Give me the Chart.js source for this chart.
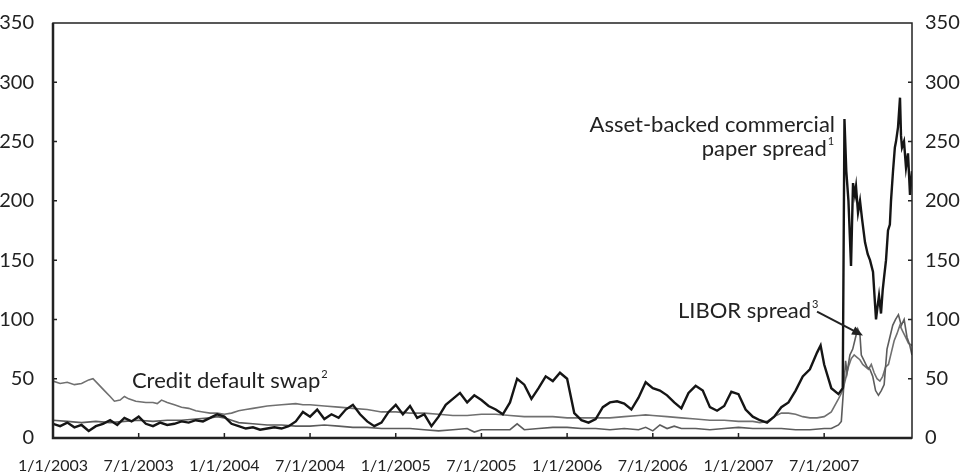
<!DOCTYPE html>
<html>
<head>
<meta charset="utf-8">
<script src="https://cdn.jsdelivr.net/npm/chart.js@4"></script>
<style>
  body { margin: 0; background: #fff; }
  canvas { display: block; }
</style>
</head>
<body>
<canvas id="spreadChart" width="962" height="475"></canvas>
<script>
// x values are months since 1/1/2003
const tickMonths = [0, 6, 12, 18, 24, 30, 36, 42, 48, 54];
const tickLabels = ['1/1/2003', '7/1/2003', '1/1/2004', '7/1/2004', '1/1/2005',
                    '7/1/2005', '1/1/2006', '7/1/2006', '1/1/2007', '7/1/2007'];

// Asset-backed commercial paper spread
const abcpMonths = [
    0, 0.5, 1, 1.5, 2, 2.5, 3, 3.5, 4, 4.5, 5, 5.5, 6, 6.5, 7, 7.5, 8, 8.5, 9, 9.5, 10, 10.5, 11, 11.5,
    12, 12.5, 13, 13.5, 14, 14.5, 15, 15.5, 16, 16.5, 17, 17.5, 18, 18.5, 19, 19.5, 20, 20.5, 21, 21.5, 22, 22.5, 23, 23.5,
    24, 24.5, 25, 25.5, 26, 26.5, 27, 27.5, 28, 28.5, 29, 29.5, 30, 30.5, 31, 31.5, 32, 32.5, 33, 33.5, 34, 34.5, 35, 35.5,
    36, 36.5, 37, 37.5, 38, 38.5, 39, 39.5, 40, 40.5, 41, 41.5, 42, 42.5, 43, 43.5, 44, 44.5, 45, 45.5, 46, 46.5, 47, 47.5,
    48, 48.5, 49, 49.5, 50, 50.5, 51, 51.5, 52, 52.5, 53, 53.5, 53.75, 54, 54.5, 55, 55.3,
    55.42, 55.55, 55.7, 55.88, 56.02, 56.15, 56.23, 56.37, 56.51, 56.65,
    56.86, 57.05, 57.21, 57.42, 57.55, 57.63, 57.75, 57.84, 57.98, 58.1,
    58.19, 58.33, 58.47, 58.6, 58.68, 58.82, 58.95, 59.03, 59.17, 59.31,
    59.38, 59.45, 59.59, 59.73, 59.87, 60.01, 60.15
];
const abcpValues = [
    12, 10, 13, 9, 11, 6, 10, 12, 15, 11, 17, 14, 18, 12, 10, 13, 11, 12, 14, 13, 15, 14, 17, 20,
    18, 12, 10, 8, 9, 7, 8, 9, 8, 10, 14, 22, 18, 24, 16, 20, 17, 24, 28, 20, 14, 10, 13, 22,
    28, 20, 27, 17, 20, 10, 18, 28, 33, 38, 30, 36, 32, 27, 24, 20, 30, 50, 45, 33, 42, 52, 48, 55,
    50, 21, 15, 13, 16, 26, 30, 31, 29, 24, 34, 47, 42, 40, 36, 30, 25, 38, 44, 40, 26, 23, 27, 39,
    37, 24, 18, 15, 13, 18, 26, 30, 40, 52, 58, 72, 78, 62, 42, 37, 42,
    269, 225, 200, 145, 215, 205, 212, 190, 200, 185,
    165, 155, 150, 140, 115, 100, 112, 120, 105, 125,
    135, 150, 175, 180, 200, 225, 245, 250, 262, 287,
    255, 245, 250, 228, 240, 205, 225
];

// Credit default swap
const cdsMonths = [
    0, 0.5, 1, 1.5, 2, 2.5, 2.8, 3.2, 3.6, 4, 4.3, 4.7, 5, 5.3, 5.8, 6.5, 7, 7.3, 7.6, 8,
    8.5, 9, 9.5, 10, 10.5, 11, 11.5, 12, 12.5, 13, 13.5, 14, 15, 16, 17, 17.5, 18, 19, 20, 21,
    22, 23, 24, 25, 26, 27, 28, 29, 30, 31, 32, 33, 34, 35, 36, 37, 38, 39, 40, 41,
    41.5, 42, 43, 44, 45, 46, 47, 48, 49, 49.5, 50, 50.5, 51, 51.5, 52, 52.5, 53, 53.5, 54, 54.5,
    55, 55.3, 55.5, 55.7, 55.9, 56.1, 56.3, 56.5, 56.7, 56.9, 57.1, 57.3, 57.5, 57.7, 57.9, 58.1, 58.3, 58.5, 58.7, 58.9,
    59.1, 59.3, 59.5, 59.7, 59.9, 60.15
];
const cdsValues = [
    48, 46, 47, 45, 46, 49, 50, 45, 40, 35, 31, 32, 35, 33, 31, 30, 30, 29, 32, 30,
    28, 26, 25, 23, 22, 21, 21, 20, 21, 23, 24, 25, 27, 28, 29, 28, 28, 27, 26, 25,
    24, 22, 22, 21, 21, 20, 19, 19, 20, 20, 19, 18, 18, 18, 17, 17, 17, 17, 18, 19,
    19.5, 19, 18, 17, 16, 15, 15, 14, 14, 13, 14, 18, 21, 21, 20, 18, 17, 17, 18, 22,
    33, 40, 50, 60, 67, 70, 68, 66, 62, 60, 58, 62, 55, 50, 48, 52, 60, 62, 72, 82,
    88, 95, 90, 85, 80, 78
];

// LIBOR spread
const liborMonths = [
    0, 1, 2, 3, 4, 5, 6, 7, 8, 9, 10, 11, 11.5, 12, 12.5, 13, 14, 15, 16, 17,
    18, 19, 20, 21, 22, 23, 24, 25, 26, 27, 28, 29, 29.5, 30, 31, 32, 32.5, 33, 34, 35,
    36, 37, 38, 39, 40, 41, 41.5, 42, 42.5, 43, 43.5, 44, 45, 46, 47, 48, 49, 50, 51, 52,
    53, 54, 54.5, 55, 55.2, 55.35, 55.5, 55.6, 55.8, 56, 56.2, 56.35, 56.5, 56.6, 56.8, 57, 57.2, 57.4, 57.6, 57.8,
    58, 58.2, 58.4, 58.6, 58.8, 59, 59.2, 59.4, 59.6, 59.8, 60, 60.15
];
const liborValues = [
    15, 14, 13, 14, 13, 14, 15, 14, 15, 15, 16, 17, 18, 17, 15, 13, 12, 11, 11, 10,
    10, 11, 10, 9, 9, 8, 8, 8, 7, 6, 7, 8, 5, 7, 7, 7, 12, 7, 8, 9,
    9, 8, 8, 7, 8, 7, 9, 6, 11, 8, 10, 8, 8, 7, 8, 9, 8, 8, 8, 7,
    7, 8, 8, 11, 14, 40, 65, 55, 70, 75, 85, 92, 88, 70, 65, 60, 58, 52, 40, 36,
    40, 45, 75, 85, 95, 100, 104, 95, 100, 85, 78, 70
];

const toPoints = (xs, ys) => xs.map((m, i) => ({ x: m, y: ys[i] }));
const FONT = 'Lato, "Open Sans", sans-serif';

const frame = {
    id: 'frame',
    afterDraw(chart) {
        const { ctx, chartArea: a, scales: { x, y } } = chart;
        ctx.save();
        ctx.strokeStyle = '#222';
        ctx.lineWidth = 1.5;
        ctx.strokeRect(a.left, a.top, a.right - a.left, a.bottom - a.top);
        ctx.lineWidth = 2.5;
        ctx.beginPath();
        ctx.moveTo(a.left, a.top);
        ctx.lineTo(a.left, a.bottom);
        ctx.lineTo(a.right, a.bottom);
        ctx.stroke();
        // short inner ticks
        ctx.lineWidth = 1.5;
        ctx.beginPath();
        tickMonths.slice(1).forEach(m => {
            const px = x.getPixelForValue(m);
            ctx.moveTo(px, a.bottom);
            ctx.lineTo(px, a.bottom - 5);
        });
        [50, 100, 150, 200, 250, 300].forEach(v => {
            const py = y.getPixelForValue(v);
            ctx.moveTo(a.left, py);
            ctx.lineTo(a.left + 4, py);
            ctx.moveTo(a.right, py);
            ctx.lineTo(a.right - 4, py);
        });
        ctx.stroke();
        ctx.restore();
    }
};

function drawLabel(ctx, text, sup, px, py, align) {
    ctx.font = '22px ' + FONT;
    const w = ctx.measureText(text).width;
    ctx.font = '11px ' + FONT;
    const sw = sup ? ctx.measureText(sup).width + 1 : 0;
    const left = align === 'right' ? px - w - sw : px;
    ctx.textAlign = 'left';
    ctx.textBaseline = 'middle';
    ctx.font = '22px ' + FONT;
    ctx.fillText(text, left, py);
    if (sup) {
        ctx.font = '11px ' + FONT;
        ctx.fillText(sup, left + w + 1, py - 7);
    }
}

const annotations = {
    id: 'annotations',
    afterDatasetsDraw(chart) {
        const { ctx, scales: { x, y } } = chart;
        ctx.save();
        ctx.fillStyle = '#222';
        drawLabel(ctx, 'Asset-backed commercial', '', x.getPixelForValue(54.76), y.getPixelForValue(264), 'right');
        drawLabel(ctx, 'paper spread', '1', x.getPixelForValue(54.7), y.getPixelForValue(244), 'right');
        drawLabel(ctx, 'LIBOR spread', '3', x.getPixelForValue(43.77), y.getPixelForValue(107), 'left');
        drawLabel(ctx, 'Credit default swap', '2', x.getPixelForValue(5.53), y.getPixelForValue(48), 'left');

        // arrow to the LIBOR spread
        const x0 = x.getPixelForValue(53.5), y0 = y.getPixelForValue(106.5);
        const x1 = x.getPixelForValue(56.72), y1 = y.getPixelForValue(86.5);
        const ang = Math.atan2(y1 - y0, x1 - x0);
        ctx.strokeStyle = '#222';
        ctx.lineWidth = 2;
        ctx.beginPath();
        ctx.moveTo(x0, y0);
        ctx.lineTo(x1 - 8 * Math.cos(ang), y1 - 8 * Math.sin(ang));
        ctx.stroke();
        ctx.beginPath();
        ctx.moveTo(x1, y1);
        ctx.lineTo(x1 - 11 * Math.cos(ang) + 4.5 * Math.sin(ang), y1 - 11 * Math.sin(ang) - 4.5 * Math.cos(ang));
        ctx.lineTo(x1 - 11 * Math.cos(ang) - 4.5 * Math.sin(ang), y1 - 11 * Math.sin(ang) + 4.5 * Math.cos(ang));
        ctx.closePath();
        ctx.fill();
        ctx.restore();
    }
};

const data = {
    datasets: [{
        label: 'Asset-backed commercial paper spread',
        data: toPoints(abcpMonths, abcpValues),
        borderColor: '#151515',
        borderWidth: 2.4,
        order: 0
    }, {
        label: 'LIBOR spread',
        data: toPoints(liborMonths, liborValues),
        borderColor: '#5c5c5c',
        borderWidth: 1.6,
        order: 1
    }, {
        label: 'Credit default swap',
        data: toPoints(cdsMonths, cdsValues),
        borderColor: '#707070',
        borderWidth: 1.6,
        order: 2
    }]
};

const yTicks = {
    stepSize: 50,
    color: '#222',
    font: { family: FONT, size: 20 }
};

const config = {
    type: 'line',
    data: data,
    options: {
        responsive: false,
        animation: false,
        devicePixelRatio: 1,
        elements: { point: { radius: 0 }, line: { tension: 0 } },
        layout: { padding: { top: 17, left: 0, right: 0, bottom: 0 } },
        plugins: {
            legend: { display: false },
            tooltip: { enabled: false }
        },
        scales: {
            x: {
                type: 'linear',
                min: 0,
                max: 60.15,
                afterBuildTicks: scale => { scale.ticks = tickMonths.map(v => ({ value: v })); },
                afterFit: scale => { scale.height = 37; },
                grid: { display: false },
                border: { display: false },
                ticks: {
                    autoSkip: false,
                    maxRotation: 0,
                    padding: 10,
                    color: '#222',
                    font: { family: FONT, size: 16 },
                    callback: v => tickLabels[tickMonths.indexOf(v)] || ''
                }
            },
            y: {
                position: 'left',
                min: 0,
                max: 350,
                afterFit: scale => { scale.width = 53; },
                grid: { display: false },
                border: { display: false },
                ticks: Object.assign({ padding: 11 }, yTicks)
            },
            y2: {
                position: 'right',
                min: 0,
                max: 350,
                afterFit: scale => { scale.width = 50; },
                grid: { display: false },
                border: { display: false },
                ticks: Object.assign({ padding: 5 }, yTicks)
            }
        }
    },
    plugins: [frame, annotations]
};

const spreadChart = new Chart(document.getElementById('spreadChart'), config);
</script>
</body>
</html>
